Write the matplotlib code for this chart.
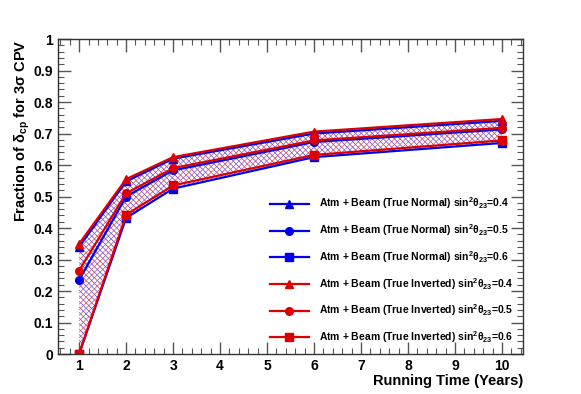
import matplotlib
matplotlib.use('Agg')
import matplotlib.pyplot as plt
from matplotlib.ticker import MultipleLocator

years = [1, 2, 3, 6, 10]

# true normal hierarchy
nh_04 = [0.340, 0.548, 0.620, 0.700, 0.740]
nh_05 = [0.235, 0.500, 0.583, 0.673, 0.713]
nh_06 = [0.000, 0.432, 0.525, 0.625, 0.670]

# true inverted hierarchy
ih_04 = [0.350, 0.555, 0.625, 0.706, 0.746]
ih_05 = [0.265, 0.510, 0.590, 0.678, 0.718]
ih_06 = [0.000, 0.442, 0.535, 0.632, 0.678]

labels_nh = ['Atm + Beam (True Normal) sin$^{2}\\theta_{23}$=0.4',
             'Atm + Beam (True Normal) sin$^{2}\\theta_{23}$=0.5',
             'Atm + Beam (True Normal) sin$^{2}\\theta_{23}$=0.6']
labels_ih = ['Atm + Beam (True Inverted) sin$^{2}\\theta_{23}$=0.4',
             'Atm + Beam (True Inverted) sin$^{2}\\theta_{23}$=0.5',
             'Atm + Beam (True Inverted) sin$^{2}\\theta_{23}$=0.6']

plt.rcParams['font.family'] = ['Liberation Sans', 'DejaVu Sans']
plt.rcParams['font.weight'] = 'bold'
plt.rcParams['mathtext.fontset'] = 'custom'
plt.rcParams['mathtext.rm'] = 'Liberation Sans:bold'
plt.rcParams['mathtext.it'] = 'Liberation Sans:bold'
plt.rcParams['mathtext.bf'] = 'Liberation Sans:bold'
plt.rcParams['hatch.linewidth'] = 0.45

blue = '#0000ee'
red = '#dd0000'

fig = plt.figure(figsize=(5.81, 3.94), dpi=100)
ax = fig.add_axes([0.0998, 0.1015, 0.8005, 0.7995])

# hatched bands
ax.fill_between(years, nh_06, nh_04, facecolor='none', edgecolor='#3333ff',
                hatch='\\\\\\\\\\\\', linewidth=0)
ax.fill_between(years, ih_06, ih_04, facecolor='none', edgecolor='#ee3333',
                hatch='//////', linewidth=0)

markers = ['^', 'o', 's']
for vals, m, lab in zip([nh_04, nh_05, nh_06], markers, labels_nh):
    ax.plot(years, vals, color=blue, marker=m, markersize=5.5, linewidth=1.6, label=lab)
for vals, m, lab in zip([ih_04, ih_05, ih_06], markers, labels_ih):
    ax.plot(years, vals, color=red, marker=m, markersize=5.5, linewidth=1.6, label=lab)

ax.set_xlim(0.55, 10.45)
ax.set_ylim(0, 1)
ax.xaxis.set_major_locator(MultipleLocator(1))
ax.xaxis.set_minor_locator(MultipleLocator(0.2))
ax.yaxis.set_major_locator(MultipleLocator(0.1))
ax.yaxis.set_minor_locator(MultipleLocator(0.02))
ax.set_yticks([0, 0.1, 0.2, 0.3, 0.4, 0.5, 0.6, 0.7, 0.8, 0.9, 1.0])
ax.set_yticklabels(['0', '0.1', '0.2', '0.3', '0.4', '0.5', '0.6', '0.7', '0.8', '0.9', '1'])
ax.tick_params(which='both', direction='in', top=True, right=True, labelsize=10, color='#555555')
ax.tick_params(which='major', length=9, width=1)
ax.tick_params(which='minor', length=4.5, width=0.8)
for s in ax.spines.values():
    s.set_linewidth(1.0)
    s.set_color('#333333')

ax.set_ylabel('Fraction of $\\delta_{cp}$ for 3$\\sigma$ CPV', fontsize=10.5, fontweight='bold')
ax.yaxis.set_label_coords(-0.055, 1.0)
ax.yaxis.label.set_ha('right')
ax.set_xlabel('Running Time (Years)', fontsize=10.5, fontweight='bold')
ax.xaxis.set_label_coords(1.0, -0.065)
ax.xaxis.label.set_ha('right')

ax.legend(loc='lower left', bbox_to_anchor=(0.446, 0.015), frameon=False,
          fontsize=7.5, handlelength=3.8, handletextpad=0.9, labelspacing=1.05,
          borderaxespad=0)

fig.savefig('out.png', dpi=100)
